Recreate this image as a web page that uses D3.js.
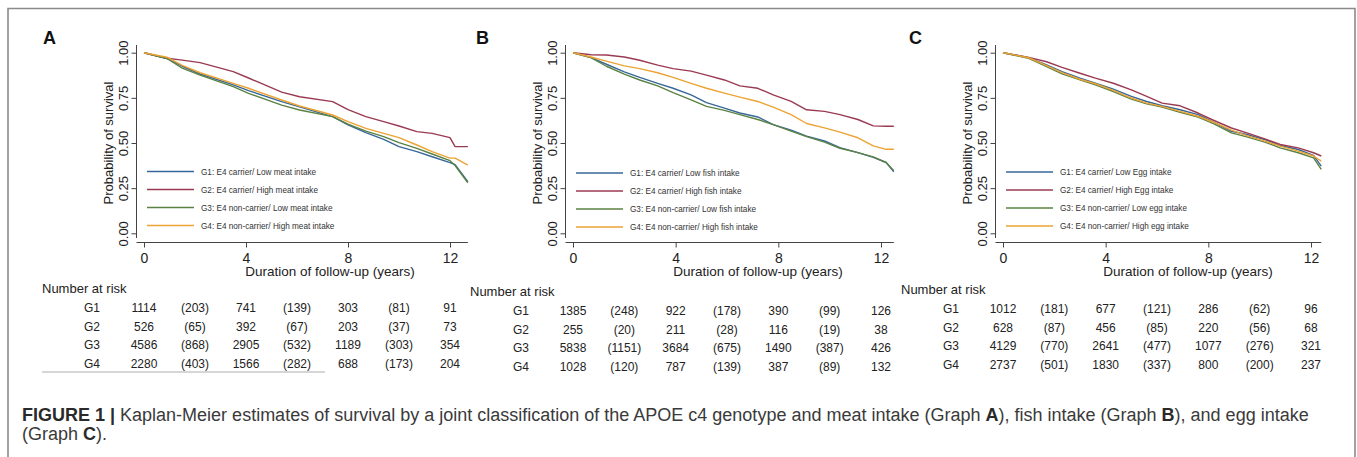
<!DOCTYPE html>
<html>
<head>
<meta charset="utf-8">
<style>
body { margin: 0; background: #fff; }
svg text { font-family: "Liberation Sans", Arial, sans-serif; }
</style>
</head>
<body>
<svg id="fig" width="1357" height="457"></svg>
<script src="https://cdnjs.cloudflare.com/ajax/libs/d3/7.8.5/d3.min.js"></script>
<script>
// ---- data ----
var groups = ["G1", "G2", "G3", "G4"];
var riskTimes = [0, 2, 4, 6, 8, 10, 12];

// Graph A: meat
var meatTimes = [0, 0.9, 1.5, 2.2, 3.5, 4.1, 5.4, 6.1, 7.4, 8.0, 8.7, 9.4, 10.0, 10.7, 11.3, 12.0, 12.2, 12.7];
var meatG1 = [1, 0.968, 0.925, 0.882, 0.822, 0.79, 0.729, 0.70, 0.646, 0.60, 0.557, 0.52, 0.48, 0.452, 0.424, 0.391, 0.38, 0.286];
var meatG2 = [1, 0.969, 0.959, 0.945, 0.895, 0.86, 0.782, 0.756, 0.729, 0.685, 0.646, 0.618, 0.594, 0.563, 0.553, 0.53, 0.48, 0.48];
var meatG3 = [1, 0.968, 0.915, 0.876, 0.812, 0.775, 0.71, 0.683, 0.646, 0.605, 0.566, 0.535, 0.502, 0.47, 0.439, 0.402, 0.375, 0.28];
var meatG4 = [1, 0.975, 0.93, 0.889, 0.83, 0.803, 0.738, 0.705, 0.655, 0.618, 0.581, 0.553, 0.53, 0.489, 0.452, 0.416, 0.416, 0.378];
var meatLegend = ["G1: E4 carrier/ Low meat intake", "G2: E4 carrier/ High meat intake",
  "G3: E4 non-carrier/ Low meat intake", "G4: E4 non-carrier/ High meat intake"];
var meatAtRisk = [[1114, 741, 303, 91], [526, 392, 203, 73], [4586, 2905, 1189, 354], [2280, 1566, 688, 204]];
var meatCensored = [[203, 139, 81], [65, 67, 37], [868, 532, 303], [403, 282, 173]];

// Graph B: fish
var fishTimes = [0, 0.7, 1.3, 2.0, 2.6, 3.3, 3.9, 4.6, 5.2, 5.9, 6.5, 7.2, 7.8, 8.5, 9.1, 9.8, 10.4, 11.1, 11.7, 12.2, 12.5];
var fishG1 = [1, 0.973, 0.936, 0.894, 0.863, 0.83, 0.803, 0.766, 0.724, 0.693, 0.666, 0.644, 0.602, 0.571, 0.538, 0.511, 0.474, 0.447, 0.42, 0.392, 0.341];
var fishG2 = [1, 0.989, 0.987, 0.976, 0.958, 0.931, 0.912, 0.898, 0.876, 0.849, 0.816, 0.803, 0.766, 0.73, 0.684, 0.675, 0.657, 0.63, 0.595, 0.593, 0.593];
var fishG3 = [1, 0.973, 0.925, 0.881, 0.849, 0.816, 0.779, 0.739, 0.703, 0.681, 0.657, 0.63, 0.602, 0.566, 0.535, 0.505, 0.471, 0.447, 0.423, 0.392, 0.347];
var fishG4 = [1, 0.976, 0.953, 0.927, 0.912, 0.889, 0.863, 0.83, 0.803, 0.776, 0.754, 0.73, 0.699, 0.657, 0.608, 0.584, 0.56, 0.529, 0.484, 0.465, 0.465];
var fishLegend = ["G1: E4 carrier/ Low fish intake", "G2: E4 carrier/ High fish intake",
  "G3: E4 non-carrier/ Low fish intake", "G4: E4 non-carrier/ High fish intake"];
var fishAtRisk = [[1385, 922, 390, 126], [255, 211, 116, 38], [5838, 3684, 1490, 426], [1028, 787, 387, 132]];
var fishCensored = [[248, 178, 99], [20, 28, 19], [1151, 675, 387], [120, 139, 89]];

// Graph C: egg
var eggTimes = [0, 1.0, 1.7, 2.3, 3.0, 3.6, 4.3, 5.0, 5.6, 6.2, 6.9, 7.6, 8.2, 8.9, 9.5, 10.2, 10.8, 11.5, 12.1, 12.4];
var eggG1 = [1, 0.972, 0.932, 0.895, 0.859, 0.831, 0.798, 0.758, 0.73, 0.706, 0.684, 0.657, 0.615, 0.565, 0.547, 0.519, 0.486, 0.464, 0.431, 0.372];
var eggG2 = [1, 0.974, 0.95, 0.919, 0.886, 0.859, 0.831, 0.794, 0.758, 0.721, 0.706, 0.666, 0.626, 0.583, 0.556, 0.523, 0.492, 0.473, 0.446, 0.428];
var eggG3 = [1, 0.969, 0.923, 0.883, 0.85, 0.822, 0.785, 0.743, 0.717, 0.699, 0.67, 0.644, 0.607, 0.556, 0.534, 0.505, 0.473, 0.446, 0.418, 0.354];
var eggG4 = [1, 0.972, 0.928, 0.89, 0.853, 0.828, 0.791, 0.749, 0.721, 0.703, 0.675, 0.648, 0.615, 0.571, 0.541, 0.51, 0.483, 0.455, 0.428, 0.40];
var eggLegend = ["G1: E4 carrier/ Low Egg intake", "G2: E4 carrier/ High Egg intake",
  "G3: E4 non-carrier/ Low egg intake", "G4: E4 non-carrier/ High egg intake"];
var eggAtRisk = [[1012, 677, 286, 96], [628, 456, 220, 68], [4129, 2641, 1077, 321], [2737, 1830, 800, 237]];
var eggCensored = [[181, 121, 62], [87, 85, 56], [770, 477, 276], [501, 337, 200]];

var xTicks = [0, 4, 8, 12];
var yTicks = [0, 0.25, 0.5, 0.75, 1];
var colors = ["#38689a", "#9a3a52", "#5b8243", "#eda334"];

// ---- layout ----
var panels = [
  {letter: "A", times: meatTimes, series: [meatG1, meatG2, meatG3, meatG4], legend: meatLegend,
   atRisk: meatAtRisk, censored: meatCensored, x0: 144, x12: 450, tMax: 12.7, letterX: 43,
   titleX: 330, tableLeft: 42, gX: 92, tableTop: 293, dy: 0, underline: true},
  {letter: "B", times: fishTimes, series: [fishG1, fishG2, fishG3, fishG4], legend: fishLegend,
   atRisk: fishAtRisk, censored: fishCensored, x0: 573, x12: 881, tMax: 12.5, letterX: 476,
   titleX: 758, tableLeft: 470, gX: 521, tableTop: 296, dy: 1.5},
  {letter: "C", times: eggTimes, series: [eggG1, eggG2, eggG3, eggG4], legend: eggLegend,
   atRisk: eggAtRisk, censored: eggCensored, x0: 1003, x12: 1311, tMax: 12.4, letterX: 909,
   titleX: 1188, tableLeft: 901, gX: 951, tableTop: 294, dy: 0.5}
];

var svg = d3.select("#fig");

// outer frame (open at the bottom)
svg.append("path")
  .attr("d", "M8,457 L8,8.5 L1355,8.5 L1355,457")
  .attr("fill", "none").attr("stroke", "#8a8a8a").attr("stroke-width", 1.6);

var y = d3.scaleLinear().domain([0, 1]).range([233.3, 52.7]);

panels.forEach(function(p) {
  var x = d3.scaleLinear().domain([0, 12]).range([p.x0, p.x12]);
  var axX = p.x0 - 7.5;
  var g = svg.append("g");

  g.append("text").attr("x", p.letterX).attr("y", 44)
    .attr("font-size", 18).attr("font-weight", "bold").attr("fill", "#111").text(p.letter);

  // y axis
  var yAxis = g.append("g").attr("transform", "translate(" + axX + ",0)")
    .call(d3.axisLeft(y).tickValues(yTicks).tickSize(5).tickFormat(d3.format(".2f")));
  yAxis.select(".domain").attr("d", "M0,45V238").attr("stroke", "#444");
  yAxis.selectAll(".tick line").attr("stroke", "#444");
  yAxis.selectAll(".tick text")
    .attr("transform", "rotate(-90)").attr("x", 0).attr("y", -9).attr("dy", 0)
    .attr("text-anchor", "middle").attr("font-size", 13).attr("fill", "#222")
    .attr("font-family", "Liberation Sans, Arial, sans-serif");

  g.append("text")
    .attr("transform", "translate(" + (axX - 24) + "," + y(0.5) + ") rotate(-90)")
    .attr("text-anchor", "middle").attr("font-size", 13).attr("fill", "#222")
    .text("Probability of survival");

  // x axis
  var xAxis = g.append("g").attr("transform", "translate(0,242.5)")
    .call(d3.axisBottom(x).tickValues(xTicks).tickSize(5).tickFormat(d3.format("d")));
  xAxis.select(".domain").attr("d", "M" + axX + ",0H" + x(p.tMax)).attr("stroke", "#444");
  xAxis.selectAll(".tick line").attr("stroke", "#444");
  xAxis.selectAll(".tick text").attr("y", 0).attr("dy", 0)
    .attr("transform", "translate(0,20)").attr("font-size", 14).attr("fill", "#222")
    .attr("font-family", "Liberation Sans, Arial, sans-serif");

  g.append("text").attr("x", p.titleX).attr("y", 275.5)
    .attr("text-anchor", "middle").attr("font-size", 13.5).attr("fill", "#222")
    .text("Duration of follow-up (years)");

  // survival curves
  var line = d3.line()
    .x(function(d, i) { return x(p.times[i]); })
    .y(function(d) { return y(d); });
  p.series.forEach(function(s, i) {
    g.append("path").datum(s).attr("d", line)
      .attr("fill", "none").attr("stroke", colors[i]).attr("stroke-width", 1.4)
      .attr("stroke-linejoin", "round");
  });

  // legend
  p.legend.forEach(function(label, i) {
    var ly = 171.5 + p.dy + i * 18;
    g.append("line").attr("x1", p.x0 + 3).attr("x2", p.x0 + 50).attr("y1", ly).attr("y2", ly)
      .attr("stroke", colors[i]).attr("stroke-width", 1.4);
    g.append("text").attr("x", p.x0 + 57).attr("y", ly + 3).attr("font-size", 8.2)
      .attr("fill", "#333").text(label);
  });

  // number at risk table
  g.append("text").attr("x", p.tableLeft).attr("y", p.tableTop).attr("font-size", 13)
    .attr("fill", "#222").text("Number at risk");
  groups.forEach(function(gName, r) {
    var ry = p.tableTop + 18.8 * (r + 1);
    g.append("text").attr("x", p.gX).attr("y", ry).attr("text-anchor", "middle")
      .attr("font-size", 12).attr("fill", "#222").text(gName);
    riskTimes.forEach(function(t, c) {
      var val = c % 2 === 0 ? String(p.atRisk[r][c / 2]) : "(" + p.censored[r][(c - 1) / 2] + ")";
      g.append("text").attr("x", x(t)).attr("y", ry).attr("text-anchor", "middle")
        .attr("font-size", 12).attr("fill", "#222").text(val);
    });
  });
  if (p.underline) {
    g.append("line").attr("x1", 42).attr("x2", 325).attr("y1", 372).attr("y2", 372)
      .attr("stroke", "#d6d6d6").attr("stroke-width", 2);
  }
});

// caption
var cap = svg.append("text").attr("x", 22).attr("y", 421).attr("font-size", 18).attr("fill", "#3a3a3a");
cap.append("tspan").attr("font-weight", "bold").attr("fill", "#2a2a2a").text("FIGURE 1 | ");
cap.append("tspan").text("Kaplan-Meier estimates of survival by a joint classification of the APOE c4 genotype and meat intake (Graph ");
cap.append("tspan").attr("font-weight", "bold").attr("fill", "#2a2a2a").text("A");
cap.append("tspan").text("), fish intake (Graph ");
cap.append("tspan").attr("font-weight", "bold").attr("fill", "#2a2a2a").text("B");
cap.append("tspan").text("), and egg intake");
var cap2 = svg.append("text").attr("x", 22).attr("y", 440).attr("font-size", 18).attr("fill", "#3a3a3a");
cap2.append("tspan").text("(Graph ");
cap2.append("tspan").attr("font-weight", "bold").attr("fill", "#2a2a2a").text("C");
cap2.append("tspan").text(").");
</script>
</body>
</html>
